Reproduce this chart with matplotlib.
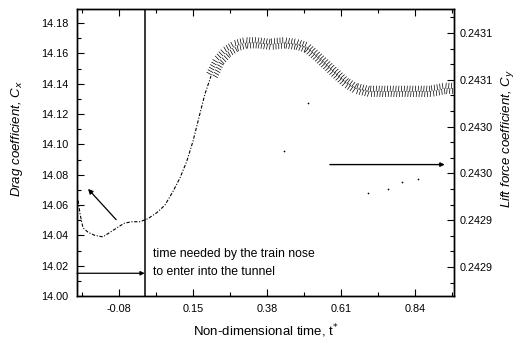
import matplotlib
matplotlib.use("Agg")
import matplotlib.pyplot as plt
from matplotlib.ticker import AutoMinorLocator, FixedLocator, FixedFormatter
import matplotlib.patheffects as pe

plt.rcParams['font.family'] = ['Liberation Sans', 'DejaVu Sans']

# --- data ---
t_rise = [-0.207, -0.201, -0.192, -0.176, -0.155, -0.130, -0.108, -0.086, -0.064,
          -0.040, -0.015, 0.010, 0.038, 0.063, 0.088, 0.110, 0.131, 0.150, 0.169,
          0.187, 0.206]
cx_rise = [14.063, 14.054, 14.045, 14.042, 14.040, 14.039, 14.042, 14.045, 14.048,
           14.049, 14.049, 14.051, 14.055, 14.060, 14.069, 14.078, 14.089, 14.102,
           14.118, 14.133, 14.145]
t_plateau = [0.206, 0.228, 0.253, 0.281, 0.312, 0.349, 0.389, 0.430, 0.470, 0.501,
             0.529, 0.560, 0.591, 0.622, 0.653, 0.694, 0.747, 0.793, 0.840, 0.887,
             0.933, 0.958]
cx_plateau = [14.145, 14.155, 14.161, 14.165, 14.167, 14.167, 14.166, 14.167, 14.166,
              14.164, 14.159, 14.153, 14.147, 14.141, 14.137, 14.135, 14.135, 14.135,
              14.135, 14.135, 14.137, 14.137]

t_lift = [0.433, 0.507, 0.694, 0.756, 0.800, 0.849]
cy_lift = [0.242984, 0.243035, 0.242939, 0.242943, 0.242951, 0.242954]

x_ticks = [-0.08, 0.15, 0.38, 0.61, 0.84]
x_tick_labels = ['-0.08', '0.15', '0.38', '0.61', '0.84']
left_ticks = [14.00, 14.02, 14.04, 14.06, 14.08, 14.10, 14.12, 14.14, 14.16, 14.18]
left_tick_labels = ['14.00', '14.02', '14.04', '14.06', '14.08', '14.10', '14.12',
                    '14.14', '14.16', '14.18']
right_ticks = [0.24286, 0.24291, 0.24296, 0.24301, 0.24306, 0.24311]
right_tick_labels = ['0.2429', '0.2429', '0.2430', '0.2430', '0.2431', '0.2431']

t_entry = 0.0            # train nose enters tunnel
arrow_left = (-0.083, 14.049, -0.182, 14.072)   # from (x,y) to (x,y)
arrow_entry_y = 14.015
arrow_right = (0.576, 14.0867, 0.933, 14.0867)

fig = plt.figure(figsize=(5.19, 3.45), dpi=100)
ax = fig.add_axes([0.1484, 0.142, 0.7264, 0.8305])
ax.set_xlim(-0.2105, 0.962)
ax.set_ylim(14.00, 14.189)

# curve
ax.plot(t_rise, cx_rise, color='black', lw=0.8, linestyle=(0, (3, 1.5, 1, 1.5)))
ax.plot(t_plateau, cx_plateau, color='black', lw=0.0,
        path_effects=[pe.TickedStroke(spacing=2.0, angle=85, length=1.9, linewidth=0.5),
                      pe.TickedStroke(spacing=2.0, angle=-95, length=1.9, linewidth=0.5,
                                      offset=(1.0, 0))])

# vertical line at tunnel entry
ax.axvline(t_entry, color='black', lw=1.1)

# arrows
ax.annotate('', xy=(arrow_left[2], arrow_left[3]), xytext=(arrow_left[0], arrow_left[1]),
            arrowprops=dict(arrowstyle='-|>', color='black', lw=0.9, mutation_scale=7))
ax.annotate('', xy=(t_entry, arrow_entry_y), xytext=(-0.2105, arrow_entry_y),
            arrowprops=dict(arrowstyle='-|>', color='black', lw=0.9, mutation_scale=6,
                            shrinkA=0, shrinkB=0))
ax.text(0.025, 14.0275, 'time needed by the train nose', fontsize=8.8, va='center', ha='left')
ax.text(0.025, 14.0158, 'to enter into the tunnel', fontsize=8.8, va='center', ha='left')

ax.set_xticks(x_ticks)
ax.set_xticklabels(x_tick_labels)
ax.set_yticks(left_ticks)
ax.set_yticklabels(left_tick_labels)
ax.xaxis.set_minor_locator(AutoMinorLocator(2))
ax.yaxis.set_minor_locator(AutoMinorLocator(2))
ax.tick_params(which='both', direction='in', top=True, labelsize=7.8, width=0.8)
ax.tick_params(which='major', length=5)
ax.tick_params(which='minor', length=3)
ax.tick_params(axis='x', pad=6)
ax.tick_params(axis='y', pad=6)

ax.set_xlabel('Non-dimensional time, t$^{*}$', fontsize=9.5, labelpad=6)
ax.set_ylabel('Drag coefficient, C$_x$', fontsize=9.5, style='italic')
ax.yaxis.set_label_coords(-0.137, 0.55)

ax2 = ax.twinx()
ax2.set_ylim(0.242829, 0.243135)
ax2.yaxis.set_major_locator(FixedLocator(right_ticks))
ax2.yaxis.set_major_formatter(FixedFormatter(right_tick_labels))
ax2.yaxis.set_minor_locator(AutoMinorLocator(3))
ax2.tick_params(which='both', direction='in', labelsize=7.8, width=0.8, pad=4)
ax2.tick_params(which='major', length=5)
ax2.tick_params(which='minor', length=3)
ax2.scatter(t_lift, cy_lift, s=1.5, color='black', linewidths=0)
ax.annotate('', xy=(arrow_right[2], arrow_right[3]), xytext=(arrow_right[0], arrow_right[1]),
            arrowprops=dict(arrowstyle='-|>', color='black', lw=1.0, mutation_scale=6,
                            shrinkA=0, shrinkB=0))
ax2.set_ylabel('Lift force coefficient, C$_y$', fontsize=9.5, style='italic', rotation=90)
ax2.yaxis.set_label_coords(1.118, 0.55)

for a in (ax, ax2):
    for s in a.spines.values():
        s.set_linewidth(1.0)

fig.savefig('out.png', dpi=100)
